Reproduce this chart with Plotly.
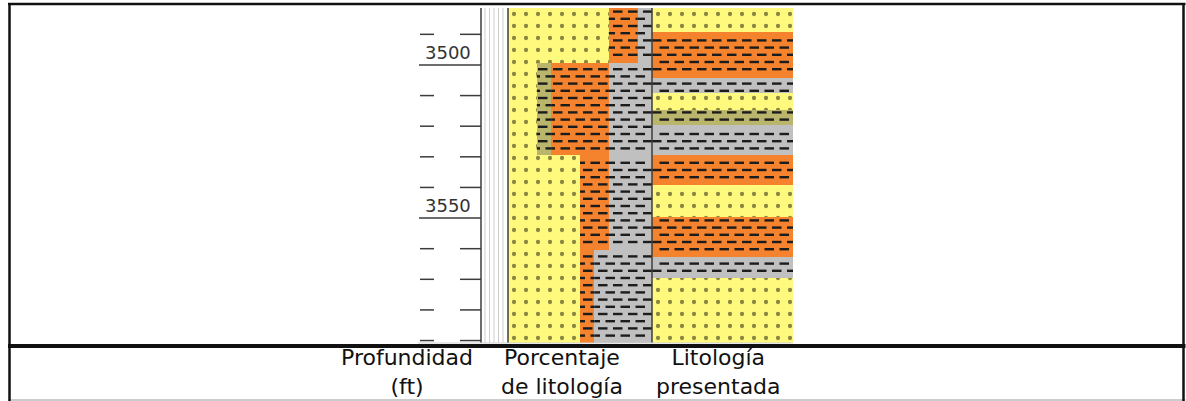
import plotly.graph_objects as go

W, H = 1186, 401

# ---------------- data ----------------
depth_top = 3481.4
depth_bottom = 3590.8
depth_ticks = [3490, 3500, 3510, 3520, 3530, 3540, 3550, 3560, 3570, 3580, 3590]
major_ticks = [3500, 3550]
major_labels = ["3500", "3550"]

# Porcentaje de litología (intervals, % per lithology)
pct_top = [3481.4, 3499.5, 3529.5, 3560.5]
pct_base = [3499.5, 3529.5, 3560.5, 3590.8]
pct_arenisca = [70, 20, 50, 50]
pct_limolita = [0, 10, 0, 0]
pct_arcillolita = [20, 40, 20, 10]
pct_lutita = [10, 30, 30, 40]

# Litología presentada
lit_top = [3481.4, 3489.2, 3504.2, 3509.2, 3514.7, 3519.6, 3529.4, 3539.2, 3549.7, 3562.7, 3569.6]
lit_base = [3489.2, 3504.2, 3509.2, 3514.7, 3519.6, 3529.4, 3539.2, 3549.7, 3562.7, 3569.6, 3590.8]
lit_type = ["arenisca", "arcillolita", "lutita", "arenisca", "limolita", "lutita",
            "arcillolita", "arenisca", "arcillolita", "lutita", "arenisca"]

captions = ["Profundidad<br>(ft)", "Porcentaje<br>de litología", "Litología<br>presentada"]

# ---------------- styles ----------------
COL = {"arenisca": "#FFF97E", "limolita": "#B9B56A", "arcillolita": "#F5822C", "lutita": "#C0C0C0"}
ORDER = ["arenisca", "limolita", "arcillolita", "lutita"]
FONT = "DejaVu Sans, Liberation Sans, Arial"

def px(x):
    return x / W

def py(y):
    return 1 - y / H

IMG_TOP, IMG_BOT = 8, 343
PCT_X0, PCT_X1 = 508, 652
LIT_X0, LIT_X1 = 652, 793
PX_PER_FT = (IMG_BOT - IMG_TOP) / (depth_bottom - depth_top)

fig = go.Figure()

dot_pattern = dict(shape=".", fgcolor="#141408", size=12, solidity=0.1, fillmode="overlay")

# ---- percentage track bars ----
pct_vals = {"arenisca": pct_arenisca, "limolita": pct_limolita,
            "arcillolita": pct_arcillolita, "lutita": pct_lutita}
centers = [(a + b) / 2 for a, b in zip(pct_top, pct_base)]
widths = [b - a for a, b in zip(pct_top, pct_base)]
cum = [0] * len(pct_top)
pct_rects = []
for lit in ORDER:
    vals = pct_vals[lit]
    marker = dict(color=COL[lit], line=dict(width=0))
    if lit == "arenisca":
        marker["pattern"] = dot_pattern
    fig.add_trace(go.Bar(orientation="h", y=centers, x=vals, base=list(cum), width=widths,
                         marker=marker, xaxis="x", yaxis="y", showlegend=False, hoverinfo="skip"))
    for i, v in enumerate(vals):
        if v > 0 and lit != "arenisca":
            pct_rects.append((cum[i], cum[i] + v, pct_top[i], pct_base[i]))
    cum = [c + v for c, v in zip(cum, vals)]

# ---- lithology track bars ----
lit_rects = []
for lit in ORDER:
    idx = [i for i, t in enumerate(lit_type) if t == lit]
    if not idx:
        continue
    marker = dict(color=COL[lit], line=dict(width=0))
    if lit == "arenisca":
        marker["pattern"] = dot_pattern
    fig.add_trace(go.Bar(orientation="h",
                         y=[(lit_top[i] + lit_base[i]) / 2 for i in idx],
                         x=[1] * len(idx), base=[0] * len(idx),
                         width=[lit_base[i] - lit_top[i] for i in idx],
                         marker=marker, xaxis="x2", yaxis="y", showlegend=False, hoverinfo="skip"))
    if lit != "arenisca":
        for i in idx:
            lit_rects.append((0, 1, lit_top[i], lit_base[i]))

# ---- dash texture (clipped to each rectangle) ----
ROW_PX, PERIOD_PX, DASH_PX = 7.2, 15.0, 9.5

def dash_lines(rects, track_px, units):
    xs, ys = [], []
    scale = track_px / units
    for (x0, x1, y0, y1) in rects:
        a, b = x0 * scale, x1 * scale
        k = 0
        while True:
            ypx = 3.6 + k * ROW_PX
            d = depth_top + ypx / PX_PER_FT
            if d > y1 - 0.6:
                break
            if d >= y0 + 0.6:
                off = (k % 2) * PERIOD_PX / 2
                s = off - PERIOD_PX
                while s < track_px:
                    e = s + DASH_PX
                    cs, ce = max(s, a), min(e, b)
                    if ce - cs > 2:
                        xs += [cs / scale, ce / scale, None]
                        ys += [d, d, None]
                    s += PERIOD_PX
            k += 1
    return xs, ys

dx, dy = dash_lines(pct_rects, PCT_X1 - PCT_X0, 100)
fig.add_trace(go.Scatter(x=dx, y=dy, mode="lines", line=dict(color="#1c1c1c", width=2.4),
                         xaxis="x", yaxis="y", showlegend=False, hoverinfo="skip"))
dx, dy = dash_lines(lit_rects, LIT_X1 - LIT_X0, 1)
fig.add_trace(go.Scatter(x=dx, y=dy, mode="lines", line=dict(color="#1c1c1c", width=2.4),
                         xaxis="x2", yaxis="y", showlegend=False, hoverinfo="skip"))

shapes = []
def vline(x, y0, y1, color, width):
    shapes.append(dict(type="line", xref="paper", yref="paper", x0=px(x), x1=px(x),
                       y0=py(y0), y1=py(y1), line=dict(color=color, width=width), layer="above"))

def hline(y, x0, x1, color, width):
    shapes.append(dict(type="line", xref="paper", yref="paper", x0=px(x0), x1=px(x1),
                       y0=py(y), y1=py(y), line=dict(color=color, width=width), layer="above"))

# track frame lines
for gx in [485, 489.5, 494, 498.5, 503]:
    vline(gx, IMG_TOP, IMG_BOT, "#cdcdcd", 1)
vline(481, IMG_TOP, IMG_BOT, "#3c3c3c", 1.5)
vline(PCT_X0, IMG_TOP, IMG_BOT, "#3c3c3c", 1.5)
vline(PCT_X1, IMG_TOP, IMG_BOT, "#3c3c3c", 1.5)
hline(IMG_BOT, 418, LIT_X1, "#d0d0d0", 1)

# depth ticks
annotations = []
for d in depth_ticks:
    if d in major_ticks:
        shapes.append(dict(type="line", xref="paper", yref="y", x0=px(419), x1=px(481),
                           y0=d, y1=d, line=dict(color="#3c3c3c", width=1.5), layer="above"))
    else:
        for a, b in [(420, 434), (460, 481)]:
            shapes.append(dict(type="line", xref="paper", yref="y", x0=px(a), x1=px(b),
                               y0=d, y1=d, line=dict(color="#3c3c3c", width=1.5), layer="above"))
for d, lab in zip(major_ticks, major_labels):
    annotations.append(dict(x=px(448), y=d, xref="paper", yref="y", text=lab, showarrow=False,
                            xanchor="center", yanchor="bottom", yshift=0,
                            font=dict(family=FONT, size=18, color="#333333")))

# table borders
hline(4, 8, 1185.5, "#111111", 2.5)
hline(346, 8, 1185.5, "#111111", 4)
hline(400, 8, 1185.5, "#bbbbbb", 1.5)
vline(9.5, 3, 401, "#111111", 2.5)
vline(1183.5, 3, 401, "#111111", 2.5)

# captions
for cx, txt in zip([407, 562, 718], captions):
    annotations.append(dict(x=px(cx), y=py(372), xref="paper", yref="paper", text=txt,
                            showarrow=False, xanchor="center", yanchor="middle", align="center",
                            font=dict(family=FONT, size=22, color="#111111")))

fig.update_layout(
    width=W, height=H, margin=dict(l=0, r=0, t=0, b=0),
    paper_bgcolor="white", plot_bgcolor="white",
    barmode="overlay", bargap=0,
    xaxis=dict(domain=[px(PCT_X0), px(PCT_X1)], range=[0, 100], visible=False, fixedrange=True),
    xaxis2=dict(domain=[px(LIT_X0), px(LIT_X1)], range=[0, 1], visible=False, anchor="y", fixedrange=True),
    yaxis=dict(domain=[py(IMG_BOT), py(IMG_TOP)], range=[depth_bottom, depth_top], visible=False,
               fixedrange=True),
    shapes=shapes, annotations=annotations,
)

fig.write_html("out.html", config={"displayModeBar": False},
               post_script="document.body.style.margin='0';document.body.style.padding='0';document.body.style.overflow='hidden';")
